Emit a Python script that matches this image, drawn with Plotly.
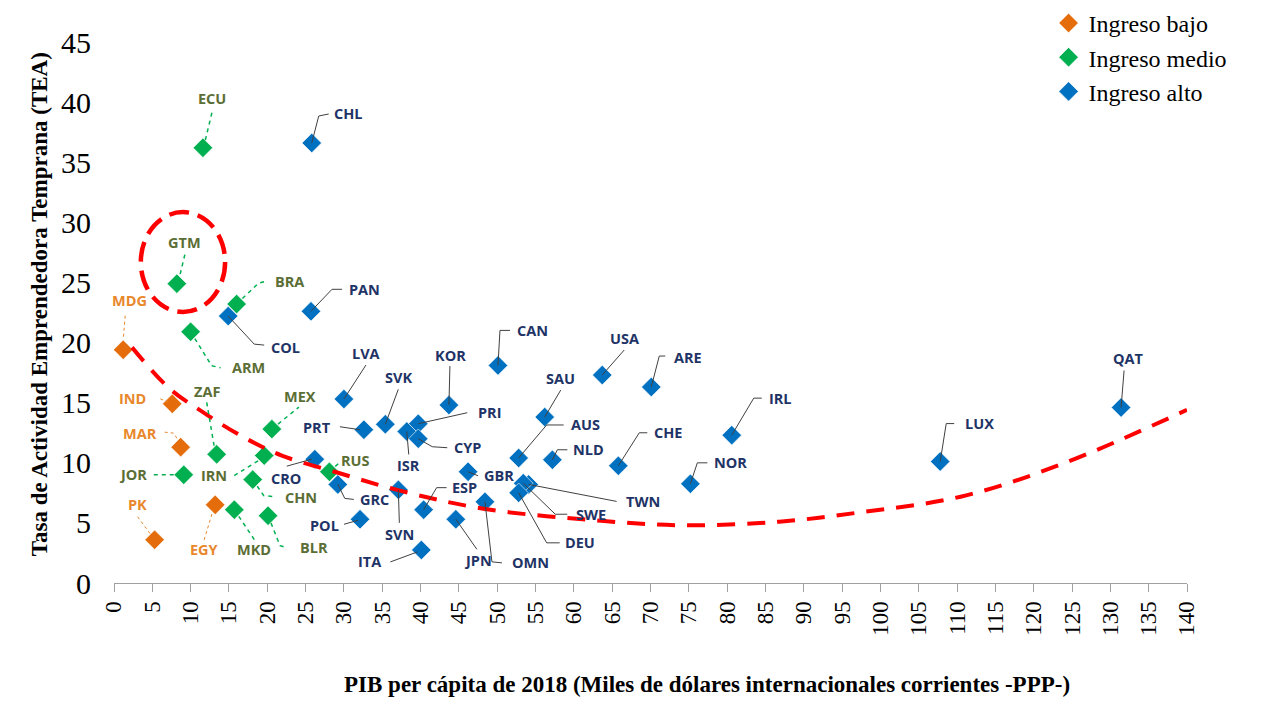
import plotly.graph_objects as go

# Ingreso bajo
low_names = ['MDG', 'IND', 'MAR', 'PK', 'EGY']
low_x = [1.2, 7.6, 8.7, 5.3, 13.2]
low_y = [19.4, 14.9, 11.3, 3.6, 6.5]

# Ingreso medio
mid_names = ['ECU', 'GTM', 'BRA', 'ARM', 'ZAF', 'MEX', 'JOR', 'IRN', 'CHN', 'MKD', 'BLR', 'RUS']
mid_x = [11.6, 8.2, 16.0, 10.0, 13.4, 20.6, 9.1, 19.6, 18.1, 15.7, 20.1, 28.1]
mid_y = [36.2, 24.9, 23.2, 20.9, 10.7, 12.8, 9.0, 10.6, 8.6, 6.1, 5.6, 9.25]

# Ingreso alto
high_names = ['CHL', 'PAN', 'COL', 'LVA', 'SVK', 'PRT', 'KOR', 'CAN', 'PRI', 'ISR', 'CYP',
              'USA', 'ARE', 'SAU', 'AUS', 'NLD', 'CHE', 'IRL', 'NOR', 'LUX', 'QAT', 'CRO',
              'GRC', 'GBR', 'ESP', 'SVN', 'POL', 'ITA', 'JPN', 'OMN', 'TWN', 'SWE', 'DEU']
high_x = [25.8, 25.7, 14.9, 30.0, 35.4, 32.6, 43.7, 50.1, 39.7, 38.2, 39.7,
          63.7, 70.1, 56.2, 52.8, 57.2, 65.8, 80.6, 75.2, 107.8, 131.4, 26.2,
          29.2, 46.2, 40.4, 37.1, 32.1, 40.1, 44.6, 48.4, 54.1, 53.4, 52.8]
high_y = [36.6, 22.6, 22.2, 15.3, 13.2, 12.75, 14.8, 18.1, 13.25, 12.6, 12.0,
          17.3, 16.3, 13.8, 10.4, 10.25, 9.75, 12.3, 8.25, 10.1, 14.6, 10.3,
          8.2, 9.25, 6.1, 7.75, 5.3, 2.75, 5.3, 6.75, 8.2, 8.3, 7.5]

# Línea de tendencia
trend_x = [2.35, 7.2, 11.5, 16.7, 21.9, 28.8, 37.2, 48.0, 61.1, 74.1, 86.8, 97.6, 110.6, 123.7, 140.0]
trend_y = [19.6, 16.2, 14.25, 12.2, 10.6, 9.25, 7.7, 6.2, 5.3, 4.8, 5.1, 5.9, 7.2, 9.9, 14.4]

x_ticks = list(range(0, 141, 5))
y_ticks = list(range(0, 46, 5))

# label placement: (label dx, label dy, leader points) in screen pixels, y downwards
label_pos = {
    'MDG': (6, -49, [(2, -34), (0, -10)]),
    'IND': (-40, -5, [(-12, -5), (-2, -1)]),
    'MAR': (-41, -14, [(-16, -15), (-7, -14), (-2, -6)]),
    'PK': (-17, -35, [(-17, -23), (-3, -4)]),
    'EGY': (-11, 45, [(-11, 35), (-2, 5)]),
    'ECU': (9, -49, [(9, -35), (2, -6)]),
    'GTM': (8, -41, [(8, -29), (2, -4)]),
    'BRA': (53, -23, [(0, 0), (22, -21), (30, -23)]),
    'ARM': (58, 36, [(0, 0), (21, 34), (30, 36)]),
    'ZAF': (-10, -63, [(-10, -52), (-2, -5)]),
    'MEX': (28, -33, [(0, 0), (27, -22)]),
    'JOR': (-51, 0, [(-30, 0), (-6, 0)]),
    'IRN': (-50, 20, [(-30, 20), (-4, 4)]),
    'CHN': (48, 18, [(0, 0), (11, 16), (21, 17)]),
    'MKD': (20, 40, [(0, 0), (20, 30)]),
    'BLR': (46, 32, [(0, 0), (12, 30), (19, 32)]),
    'RUS': (26, -11, [(0, 0), (11, -10)]),
    'CHL': (37, -29, [(0, 0), (7, -27), (17, -29)]),
    'PAN': (54, -22, [(0, 0), (21, -22), (31, -22)]),
    'COL': (57, 31, [(0, 0), (26, 28), (36, 29)]),
    'LVA': (22, -46, [(0, 0), (22, -34)]),
    'SVK': (13, -47, [(0, 0), (13, -35)]),
    'PRT': (-47, -2, [(-24, -3), (-4, 0)]),
    'KOR': (2, -50, [(0, 0), (1, -39)]),
    'CAN': (35, -35, [(0, 0), (2, -35), (12, -35)]),
    'PRI': (71, -11, [(0, 0), (49, -11)]),
    'ISR': (2, 34, [(0, 0), (2, 23)]),
    'CYP': (49, 9, [(0, 0), (14, 8), (29, 9)]),
    'USA': (22, -37, [(0, 0), (22, -25)]),
    'ARE': (37, -30, [(0, 0), (8, -31), (14, -31)]),
    'SAU': (16, -39, [(0, 0), (16, -27)]),
    'AUS': (67, -33, [(0, 0), (28, -33), (45, -33)]),
    'NLD': (36, -10, [(0, 0), (5, -10), (15, -10)]),
    'CHE': (50, -33, [(0, 0), (21, -33), (29, -33)]),
    'IRL': (49, -37, [(0, 0), (22, -37), (30, -37)]),
    'NOR': (40, -21, [(0, 0), (7, -21), (17, -21)]),
    'LUX': (39, -38, [(0, 0), (6, -38), (14, -38)]),
    'QAT': (7, -49, [(0, 0), (3, -37)]),
    'CRO': (-29, 19, [(-28, 7), (-3, 0)]),
    'GRC': (37, 15, [(0, 0), (7, 14), (16, 15)]),
    'GBR': (31, 4, [(0, 0), (10, 4)]),
    'ESP': (41, -22, [(0, 0), (13, -22), (23, -22)]),
    'SVN': (1, 45, [(0, 0), (1, 33)]),
    'POL': (-36, 6, [(-16, 5), (-2, 1)]),
    'ITA': (-52, 12, [(-31, 12), (-4, 2)]),
    'JPN': (22, 41, [(0, 0), (21, 30)]),
    'OMN': (46, 61, [(0, 0), (7, 60), (17, 61)]),
    'TWN': (114, 17, [(0, 0), (88, 17)]),
    'SWE': (68, 31, [(0, 0), (32, 31), (44, 31)]),
    'DEU': (61, 50, [(0, 0), (28, 50), (41, 50)]),
}

groups = [
    ('Ingreso bajo', low_names, low_x, low_y, '#E46C0A', '#E8872C', dict(color='#E8872C', width=1, dash='dot')),
    ('Ingreso medio', mid_names, mid_x, mid_y, '#00B050', '#5B6E35', dict(color='#00B050', width=1.5, dash='4px,4px')),
    ('Ingreso alto', high_names, high_x, high_y, '#0070C0', '#1F3466', dict(color='#404040', width=1)),
]

fig = go.Figure()
for name, names, xs, ys, mcolor, tcolor, lline in groups:
    fig.add_trace(go.Scatter(x=xs, y=ys, mode='markers', name=name,
                             marker=dict(symbol='diamond', size=15, color=mcolor,
                                         line=dict(color='white', width=0.6)),
                             hovertext=names))
    for n, xv, yv in zip(names, xs, ys):
        lx, ly, pts = label_pos[n]
        path = 'M ' + ' L '.join(f'{px},{-py}' for px, py in pts)
        fig.add_shape(type='path', xref='x', yref='y', xsizemode='pixel', ysizemode='pixel',
                      xanchor=xv, yanchor=yv, path=path, line=lline)
        fig.add_annotation(x=xv, y=yv, text=n, showarrow=False, xshift=lx, yshift=-ly,
                           font=dict(family='Open Sans', size=14.5, color=tcolor, weight='bold'))

fig.add_trace(go.Scatter(x=trend_x, y=trend_y, mode='lines', line_shape='spline', showlegend=False,
                         line=dict(color='#FF0000', width=4, dash='18px,12px'), hoverinfo='skip'))

# circle around GTM
fig.add_shape(type='circle', xref='x', yref='y', x0=3.5, x1=14.5, y0=22.55, y1=30.85,
              line=dict(color='#FF0000', width=4.5, dash='20px,9px'))

fig.add_annotation(xref='paper', yref='paper', x=0.553, y=-0.214, showarrow=False,
                   text='<b>PIB per cápita de 2018 (Miles de dólares internacionales corrientes -PPP-)</b>',
                   font=dict(family='Liberation Serif', size=23, color='black'))
fig.add_annotation(xref='paper', yref='paper', x=-0.083, y=0.516, showarrow=False, textangle=-90,
                   text='<b>Tasa de Actividad Emprendedora Temprana (TEA)</b>',
                   font=dict(family='Liberation Serif', size=23, color='black'))

fig.update_xaxes(range=[0, 140], tickvals=x_ticks, tickangle=-90, ticks='outside', ticklen=8,
                 tickcolor='#A0A0A0', showline=True, linecolor='#A0A0A0', linewidth=1,
                 showgrid=False, zeroline=False, automargin=False,
                 tickfont=dict(family='Liberation Serif', size=23, color='black'))
fig.update_yaxes(range=[0, 45], tickvals=y_ticks, showgrid=False, zeroline=False, showline=False,
                 ticklabelstandoff=22, automargin=False,
                 tickfont=dict(family='Liberation Serif', size=30, color='black'))
fig.update_layout(width=1268, height=717, plot_bgcolor='white', paper_bgcolor='white',
                  margin=dict(l=106, r=89, t=34, b=142, autoexpand=False),
                  legend=dict(x=0.871, y=1.076, xanchor='left', yanchor='top',
                              font=dict(family='Liberation Serif', size=24, color='black'),
                              bgcolor='rgba(0,0,0,0)'))
fig.write_html("out.html")
